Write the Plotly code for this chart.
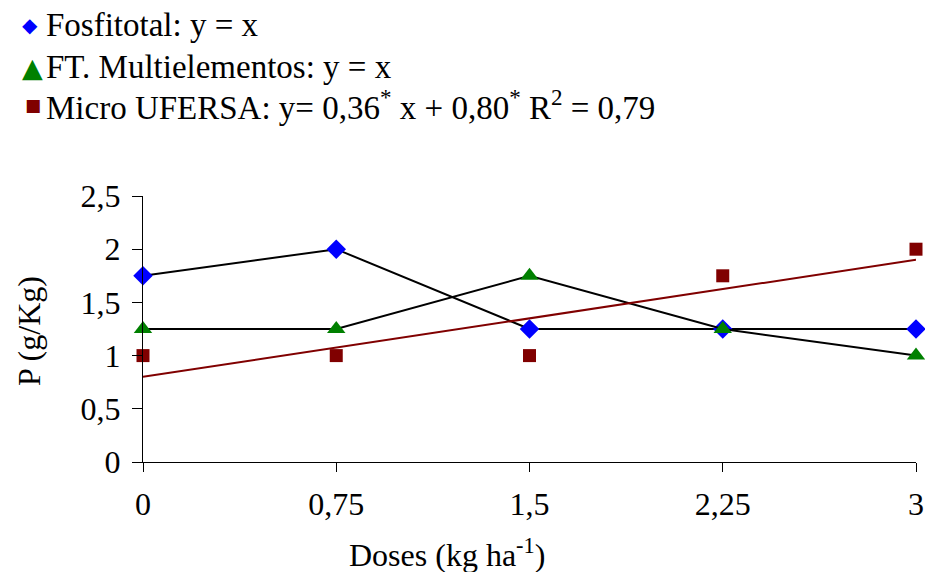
import numpy as np
import plotly.graph_objects as go

doses = [0, 0.75, 1.5, 2.25, 3]
dose_labels = ["0", "0,75", "1,5", "2,25", "3"]
fosfitotal = [1.75, 2.0, 1.25, 1.25, 1.25]
ft_multi = [1.25, 1.25, 1.75, 1.25, 1.0]
micro_ufersa = [1.0, 1.0, 1.0, 1.75, 2.0]
y_ticks = [0, 0.5, 1, 1.5, 2, 2.5]
y_tick_labels = ["0", "0,5", "1", "1,5", "2", "2,5"]
legend_labels = [
    "Fosfitotal: y = x",
    "FT. Multielementos: y = x",
    "Micro UFERSA: y= 0,36<sup>*</sup> x + 0,80<sup>*</sup> R<sup>2</sup> = 0,79",
]

slope, intercept = np.polyfit(doses, micro_ufersa, 1)
trend = [intercept + slope * d for d in doses]

FONT = "Liberation Serif, Times New Roman, serif"
BLUE = "#0000FF"
GREEN = "#008000"
MAROON = "#800000"

W, H = 917, 564
L, R, T, B = 135, 9, 188, 110
PW, PH = W - L - R, H - T - B


def px(fx):
    return (fx - L) / PW


def py(fy):
    return (H - B - fy) / PH


fig = go.Figure()
fig.add_trace(go.Scatter(x=doses, y=fosfitotal, mode="lines+markers", name=legend_labels[0],
                         line=dict(color="black", width=2),
                         marker=dict(symbol="diamond", size=15, color=BLUE),
                         cliponaxis=False, showlegend=False))
fig.add_trace(go.Scatter(x=doses, y=ft_multi, mode="lines+markers", name=legend_labels[1],
                         line=dict(color="black", width=2),
                         marker=dict(symbol="triangle-up", size=16, color=GREEN),
                         cliponaxis=False, showlegend=False))
fig.add_trace(go.Scatter(x=doses, y=trend, mode="lines", name="Linear (Micro UFERSA)",
                         line=dict(color=MAROON, width=2),
                         cliponaxis=False, showlegend=False, hoverinfo="skip"))
fig.add_trace(go.Scatter(x=doses, y=micro_ufersa, mode="markers", name=legend_labels[2],
                         marker=dict(symbol="square", size=13, color=MAROON),
                         cliponaxis=False, showlegend=False))

annotations = []
# legend rows (page y centres 25, 67, 105 -> figure y = page - 8)
rows = [(17, "◆", BLUE, 20, 22), (59, "▲", GREEN, 27, 24), (97, "■", MAROON, 17, 25)]
for (fy, glyph, col, gsize, gx), label in zip(rows, legend_labels):
    annotations.append(dict(text=glyph, xref="paper", yref="paper", x=px(gx), y=py(fy),
                            xanchor="center", yanchor="middle", showarrow=False,
                            font=dict(family="DejaVu Sans", size=gsize, color=col)))
    annotations.append(dict(text=label, xref="paper", yref="paper", x=px(36), y=py(fy),
                            xanchor="left", yanchor="middle", showarrow=False,
                            font=dict(family=FONT, size=33, color="black")))
annotations.append(dict(text="Doses (kg ha<sup>-1</sup>)", xref="paper", yref="paper",
                        x=px(439), y=py(545), xanchor="center", yanchor="middle",
                        showarrow=False, font=dict(family=FONT, size=32, color="black")))
annotations.append(dict(text="P (g/Kg)", xref="paper", yref="paper", textangle=-90,
                        x=px(21), y=py(323), xanchor="center", yanchor="middle",
                        showarrow=False, font=dict(family=FONT, size=32, color="black")))

fig.update_layout(
    width=W, height=H,
    margin=dict(l=L, r=R, t=T, b=B, autoexpand=False),
    paper_bgcolor="white", plot_bgcolor="white",
    font=dict(family=FONT, size=32, color="black"),
    showlegend=False,
    xaxis=dict(range=[0, 3], tickmode="array", tickvals=doses, ticktext=dose_labels,
               showline=True, linecolor="black", linewidth=1,
               ticks="outside", ticklen=9, tickcolor="black", tickwidth=1,
               showgrid=False, zeroline=False, ticklabelstandoff=5),
    yaxis=dict(range=[0, 2.5], tickmode="array", tickvals=y_ticks, ticktext=y_tick_labels,
               showline=True, linecolor="black", linewidth=1,
               ticks="outside", ticklen=10, tickcolor="black", tickwidth=1,
               showgrid=False, zeroline=False, ticklabelstandoff=5),
    annotations=annotations,
)

fig.write_html("out.html")
